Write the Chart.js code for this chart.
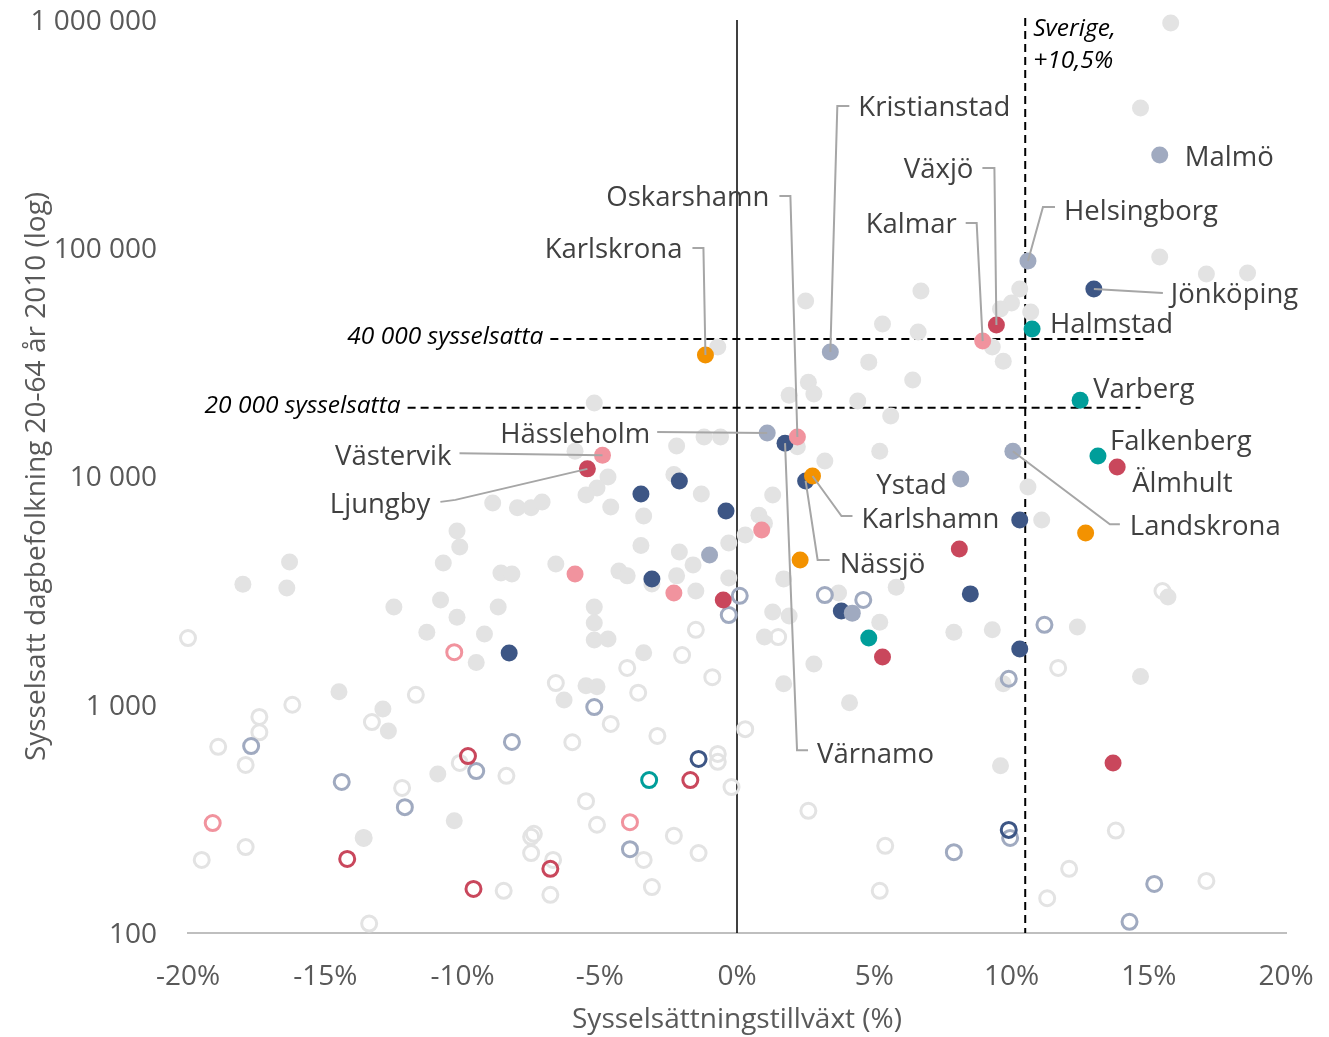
<!DOCTYPE html>
<html>
<head>
<meta charset="utf-8">
<script src="https://cdn.jsdelivr.net/npm/chart.js@4.4.1/dist/chart.umd.min.js"></script>
<style>
  html, body { margin: 0; padding: 0; background: #fff; }
  #wrap { width: 1329px; height: 1037px; }
</style>
</head>
<body>
<div id="wrap"><canvas id="myChart"></canvas></div>
<script>
// growth in %, employed (daytime population 20-64, 2010)
const cityNames = ["Malmö", "Helsingborg", "Jönköping", "Halmstad", "Växjö", "Kalmar", "Kristianstad", "Karlskrona", "Varberg", "Falkenberg", "Älmhult", "Landskrona", "Hässleholm", "Värnamo", "Oskarshamn", "Västervik", "Ljungby", "Nässjö", "Karlshamn", "Ystad"];
const cityGrowth = [15.4, 10.6, 13.0, 10.75, 9.45, 8.95, 3.4, -1.15, 12.5, 13.15, 13.85, 10.05, 1.1, 1.75, 2.2, -4.9, -5.45, 2.5, 2.75, 8.15];
const cityEmployed = [256000, 87900, 66300, 44300, 46100, 39200, 35100, 34100, 21600, 12300, 11000, 12900, 15500, 14000, 14900, 12400, 10800, 9560, 10050, 9750];
const cityGroup = ["slate", "slate", "navy", "teal", "crimson", "pink", "slate", "orange", "teal", "teal", "crimson", "slate", "slate", "navy", "pink", "pink", "crimson", "navy", "orange", "slate"];

const grayFilled = [
  [15.8, 970000], [14.7, 412000], [15.4, 91500], [17.1, 77100], [18.6, 77900],
  [10.3, 66300], [10.0, 57600], [9.6, 54200], [10.7, 52600], [6.7, 65000],
  [2.5, 58700], [5.3, 46600], [6.6, 43000], [9.3, 36900], [9.7, 32000],
  [4.8, 31700], [6.4, 26500], [2.6, 25900], [2.8, 23000], [1.9, 22700],
  [4.4, 21400], [5.6, 18400], [-0.7, 36900], [-5.2, 21000], [2.2, 13500],
  [5.2, 12900], [3.2, 11700], [-1.2, 14900], [-0.6, 14900], [-2.2, 13600],
  [-5.9, 12900], [-4.7, 9950], [-5.1, 8900], [-5.5, 8300], [-4.6, 7350],
  [-3.4, 6710], [-8.9, 7660], [-8.0, 7290], [-7.5, 7290], [-7.1, 7740],
  [-2.3, 10200], [-1.3, 8380], [-0.3, 5110], [0.3, 5540], [-3.5, 4990],
  [-2.1, 4670], [-1.6, 4100], [-6.6, 4140], [-8.6, 3780], [-8.2, 3740],
  [-4.3, 3850], [-4.0, 3670], [-2.2, 3670], [-0.3, 3590], [-1.5, 3150],
  [-3.1, 3380], [-8.7, 2680], [-5.2, 2680], [-5.2, 2280], [-5.2, 1920],
  [-4.7, 1940], [-9.2, 2040], [-3.4, 1690], [-9.5, 1530], [-5.5, 1210],
  [-5.1, 1200], [-6.3, 1050], [-10.2, 5770], [-10.1, 4910], [-10.7, 4180],
  [-16.3, 4220], [-18.0, 3370], [-16.4, 3250], [-12.5, 2680], [-10.8, 2880],
  [-10.2, 2420], [-11.3, 2080], [-14.5, 1140], [-12.9, 958], [-12.7, 767],
  [-10.9, 497], [-10.3, 310], [-13.6, 261], [1.0, 1980], [7.9, 2080],
  [9.3, 2130], [12.4, 2190], [2.8, 1510], [1.7, 1235], [4.1, 1020],
  [9.7, 1235], [9.6, 540], [14.7, 1330], [10.6, 8990], [11.1, 6450],
  [15.7, 2965], [5.8, 3270], [5.2, 2300], [3.7, 3090], [1.3, 2550],
  [1.9, 2450], [1.7, 3560], [0.8, 6770], [1.0, 6240], [1.3, 8300]
];
const grayHollow = [
  [-20.0, 1960], [-11.7, 1105], [-16.2, 1000], [-17.4, 884], [-17.4, 757],
  [-13.3, 840], [-18.9, 654], [-17.9, 545], [-12.2, 432], [-17.9, 238],
  [-19.5, 209], [-13.6, 261], [-13.4, 110], [-10.1, 556], [-2.0, 1650],
  [-4.0, 1450], [-0.9, 1320], [-6.6, 1245], [-3.6, 1130], [-4.6, 824],
  [-2.9, 730], [-6.0, 685], [-8.4, 488], [-0.7, 609], [-0.7, 562],
  [-0.2, 436], [-5.5, 378], [-5.1, 298], [-2.3, 267], [-3.4, 209],
  [-1.4, 224], [-7.5, 264], [-7.4, 272], [-7.5, 224], [-6.7, 209],
  [-8.5, 153], [-6.8, 147], [-3.1, 159], [1.5, 1980], [0.3, 782],
  [2.6, 343], [5.4, 241], [5.2, 153], [11.7, 1450], [13.8, 281],
  [12.1, 191], [17.1, 169], [11.3, 142], [15.5, 3150], [-1.5, 2130]
];
const slateFilled = [[-1.0, 4530], [4.2, 2520]];
const navyFilled = [[10.3, 6450], [8.5, 3060], [10.3, 1755], [3.8, 2575], [-0.4, 7060], [-2.1, 9560], [-3.5, 8380], [-3.1, 3555], [-8.3, 1685]];
const crimsonFilled = [[8.1, 4810], [5.3, 1620], [-0.5, 2880], [13.7, 556]];
const pinkFilled = [[0.9, 5830], [-5.9, 3740], [-2.3, 3090]];
const orangeFilled = [[12.7, 5655], [2.3, 4310]];
const tealFilled = [[4.8, 1960]];
const slateHollow = [[0.1, 3000], [-0.3, 2470], [3.2, 3025], [4.6, 2880], [11.2, 2240], [9.9, 1300], [-5.2, 977], [-8.2, 687], [-17.7, 659], [-14.4, 459], [-12.1, 356], [-9.5, 512], [-3.9, 233], [7.9, 226], [9.95, 261], [15.2, 164], [14.3, 112]];
const navyHollow = [[-1.4, 579], [9.9, 283]];
const tealHollow = [[-3.2, 468]];
const crimsonHollow = [[-1.7, 468], [-9.8, 596], [-14.2, 211], [-9.6, 156], [-6.8, 191]];
const pinkHollow = [[-10.3, 1700], [-19.1, 303], [-3.9, 306]];

const yTicks = [100, 1000, 10000, 100000, 1000000];
const swedenGrowth = 10.5;
const thresholds = [40000, 20000];
const thresholdText = ["40 000 sysselsatta", "20 000 sysselsatta"];
const thresholdFrom = [-6.8, -12.0];
const thresholdTo = [14.9, 14.7];

const colors = {
  gray: "#e3e3e3",
  slate: "#a0aac0",
  navy: "#3d5685",
  crimson: "#c9475c",
  pink: "#f1939e",
  orange: "#f39200",
  teal: "#009e9a"
};

function pts(list) {
  return list.map((p) => ({ x: p[0], y: p[1] }));
}

function cityPts(group) {
  const out = [];
  cityNames.forEach((n, i) => {
    if (cityGroup[i] === group) out.push({ x: cityGrowth[i], y: cityEmployed[i] });
  });
  return out;
}

function filled(list, col) {
  return { data: list, backgroundColor: col, borderWidth: 0, pointRadius: 8.5, pointHoverRadius: 8.5, clip: false };
}

function hollow(list, col) {
  return { data: list, backgroundColor: "rgba(0,0,0,0)", borderColor: col, borderWidth: 3, pointRadius: 7.5, pointHoverRadius: 7.5, clip: false };
}

const datasets = [
  filled(pts(grayFilled), colors.gray),
  hollow(pts(grayHollow), colors.gray),
  hollow(pts(slateHollow), colors.slate),
  hollow(pts(navyHollow), colors.navy),
  hollow(pts(crimsonHollow), colors.crimson),
  hollow(pts(pinkHollow), colors.pink),
  hollow(pts(tealHollow), colors.teal),
  filled(pts(navyFilled).concat(cityPts("navy")), colors.navy),
  filled(pts(slateFilled).concat(cityPts("slate")), colors.slate),
  filled(pts(crimsonFilled).concat(cityPts("crimson")), colors.crimson),
  filled(pts(pinkFilled).concat(cityPts("pink")), colors.pink),
  filled(pts(orangeFilled).concat(cityPts("orange")), colors.orange),
  filled(pts(tealFilled).concat(cityPts("teal")), colors.teal)
];
datasets.forEach((d, i) => { d.order = datasets.length - i; });

// label placement relative to the point, in pixels
const labelLayout = {
  "Malmö": { dx: 25, dy: 1, align: "left" },
  "Helsingborg": { dx: 36, dy: -51, align: "left", path: [[15, -54], [27, -54]] },
  "Jönköping": { dx: 77, dy: 4, align: "left", path: [[69, 4]] },
  "Halmstad": { dx: 18, dy: -6, align: "left" },
  "Varberg": { dx: 13, dy: -12, align: "left" },
  "Falkenberg": { dx: 12, dy: -16, align: "left" },
  "Älmhult": { dx: 15, dy: 15, align: "left" },
  "Landskrona": { dx: 117, dy: 74, align: "left", path: [[97, 73], [107, 73]] },
  "Kristianstad": { dx: 28, dy: -246, align: "left", path: [[7, -246], [19, -246]] },
  "Växjö": { dx: -23, dy: -157, align: "right", path: [[-2, -157], [-14, -157]] },
  "Kalmar": { dx: -26, dy: -118, align: "right", path: [[-6, -118], [-17, -118]] },
  "Oskarshamn": { dx: -28, dy: -241, align: "right", path: [[-7, -241], [-18, -241]] },
  "Karlskrona": { dx: -23, dy: -107, align: "right", path: [[-2, -107], [-13, -107]] },
  "Hässleholm": { dx: -117, dy: 0, align: "right", path: [[-110, -1]] },
  "Västervik": { dx: -151, dy: 0, align: "right", path: [[-143, -2]] },
  "Ljungby": { dx: -157, dy: 34, align: "right", path: [[-132, 31], [-147, 33]] },
  "Värnamo": { dx: 32, dy: 310, align: "left", path: [[12, 307], [23, 307]] },
  "Nässjö": { dx: 34, dy: 82, align: "left", path: [[12, 79], [24, 79]] },
  "Karlshamn": { dx: 49, dy: 42, align: "left", path: [[29, 40], [40, 40]] },
  "Ystad": { dx: -14, dy: 5, align: "right" }
};

const FONT = "'Open Sans', sans-serif";

const refLines = {
  id: "refLines",
  beforeDatasetsDraw(chart) {
    const { ctx, chartArea, scales: { x, y } } = chart;
    ctx.save();
    const x0 = x.getPixelForValue(0);
    ctx.strokeStyle = "#000";
    ctx.lineWidth = 1.5;
    ctx.beginPath();
    ctx.moveTo(x0, chartArea.top);
    ctx.lineTo(x0, chartArea.bottom);
    ctx.stroke();

    ctx.setLineDash([8, 5]);
    ctx.lineWidth = 2;
    const xs = x.getPixelForValue(swedenGrowth);
    ctx.beginPath();
    ctx.moveTo(xs, chartArea.top - 2);
    ctx.lineTo(xs, chartArea.bottom);
    ctx.stroke();

    ctx.font = "italic 24.5px " + FONT;
    ctx.fillStyle = "#000";
    ctx.textBaseline = "middle";
    thresholds.forEach((t, i) => {
      const yp = y.getPixelForValue(t);
      const xa = x.getPixelForValue(thresholdFrom[i]);
      ctx.beginPath();
      ctx.moveTo(xa, yp);
      ctx.lineTo(x.getPixelForValue(thresholdTo[i]), yp);
      ctx.stroke();
      ctx.textAlign = "right";
      ctx.fillText(thresholdText[i], xa - 7, yp - 2);
    });
    ctx.textAlign = "left";
    ctx.fillText("Sverige,", xs + 8, chartArea.top + 9);
    ctx.fillText("+" + String(swedenGrowth).replace(".", ",") + "%", xs + 8, chartArea.top + 41);
    ctx.restore();
  }
};

const cityLabels = {
  id: "cityLabels",
  afterDatasetsDraw(chart) {
    const { ctx, scales: { x, y } } = chart;
    ctx.save();
    ctx.font = "27.5px " + FONT;
    ctx.textBaseline = "middle";
    cityNames.forEach((name, i) => {
      const lay = labelLayout[name];
      const px = x.getPixelForValue(cityGrowth[i]);
      const py = y.getPixelForValue(cityEmployed[i]);
      if (lay.path) {
        ctx.strokeStyle = "#a6a6a6";
        ctx.lineWidth = 2;
        ctx.beginPath();
        ctx.moveTo(px, py);
        lay.path.forEach((p) => ctx.lineTo(px + p[0], py + p[1]));
        ctx.stroke();
      }
      ctx.fillStyle = "#404040";
      ctx.textAlign = lay.align;
      ctx.fillText(name, px + lay.dx, py + lay.dy + 2);
    });
    ctx.restore();
  }
};

let ctx = document.getElementById("myChart").getContext("2d");
let myChart = new Chart(ctx, {
  type: "scatter",
  data: { datasets: datasets },
  plugins: [refLines, cityLabels],
  options: {
    responsive: true,
    maintainAspectRatio: false,
    animation: false,
    layout: { padding: { left: 0, right: 43, top: 20, bottom: 0 } },
    plugins: { legend: { display: false }, tooltip: { enabled: false } },
    scales: {
      x: {
        type: "linear",
        min: -20,
        max: 20,
        afterFit: (s) => {
          s.height = 104;
          s.paddingLeft = 0;
          s.paddingRight = 0;
        },
        ticks: {
          stepSize: 5,
          padding: 27,
          color: "#595959",
          font: { family: FONT, size: 28 },
          callback: (v) => v + "%"
        },
        grid: { display: false, drawTicks: false },
        border: { display: true, color: "#bfbfbf", width: 2 },
        title: {
          display: true,
          text: "Sysselsättningstillväxt (%)",
          color: "#595959",
          font: { family: FONT, size: 28 },
          padding: { top: 0, bottom: 0 }
        }
      },
      y: {
        type: "logarithmic",
        min: 100,
        max: 1000000,
        afterFit: (s) => {
          s.width = 188;
          s.paddingTop = 0;
          s.paddingBottom = 0;
        },
        afterBuildTicks: (s) => { s.ticks = yTicks.map((v) => ({ value: v })); },
        ticks: {
          padding: 31,
          labelOffset: 2,
          color: "#595959",
          font: { family: FONT, size: 28 },
          callback: (v) => String(v).replace(/\B(?=(\d{3})+(?!\d))/g, " ")
        },
        grid: { display: false, drawTicks: false },
        border: { display: false },
        title: {
          display: true,
          text: "Sysselsatt dagbefolkning 20-64 år 2010 (log)",
          color: "#595959",
          font: { family: FONT, size: 28 },
          padding: { top: 20, bottom: 0 }
        }
      }
    }
  }
});
</script>
</body>
</html>
